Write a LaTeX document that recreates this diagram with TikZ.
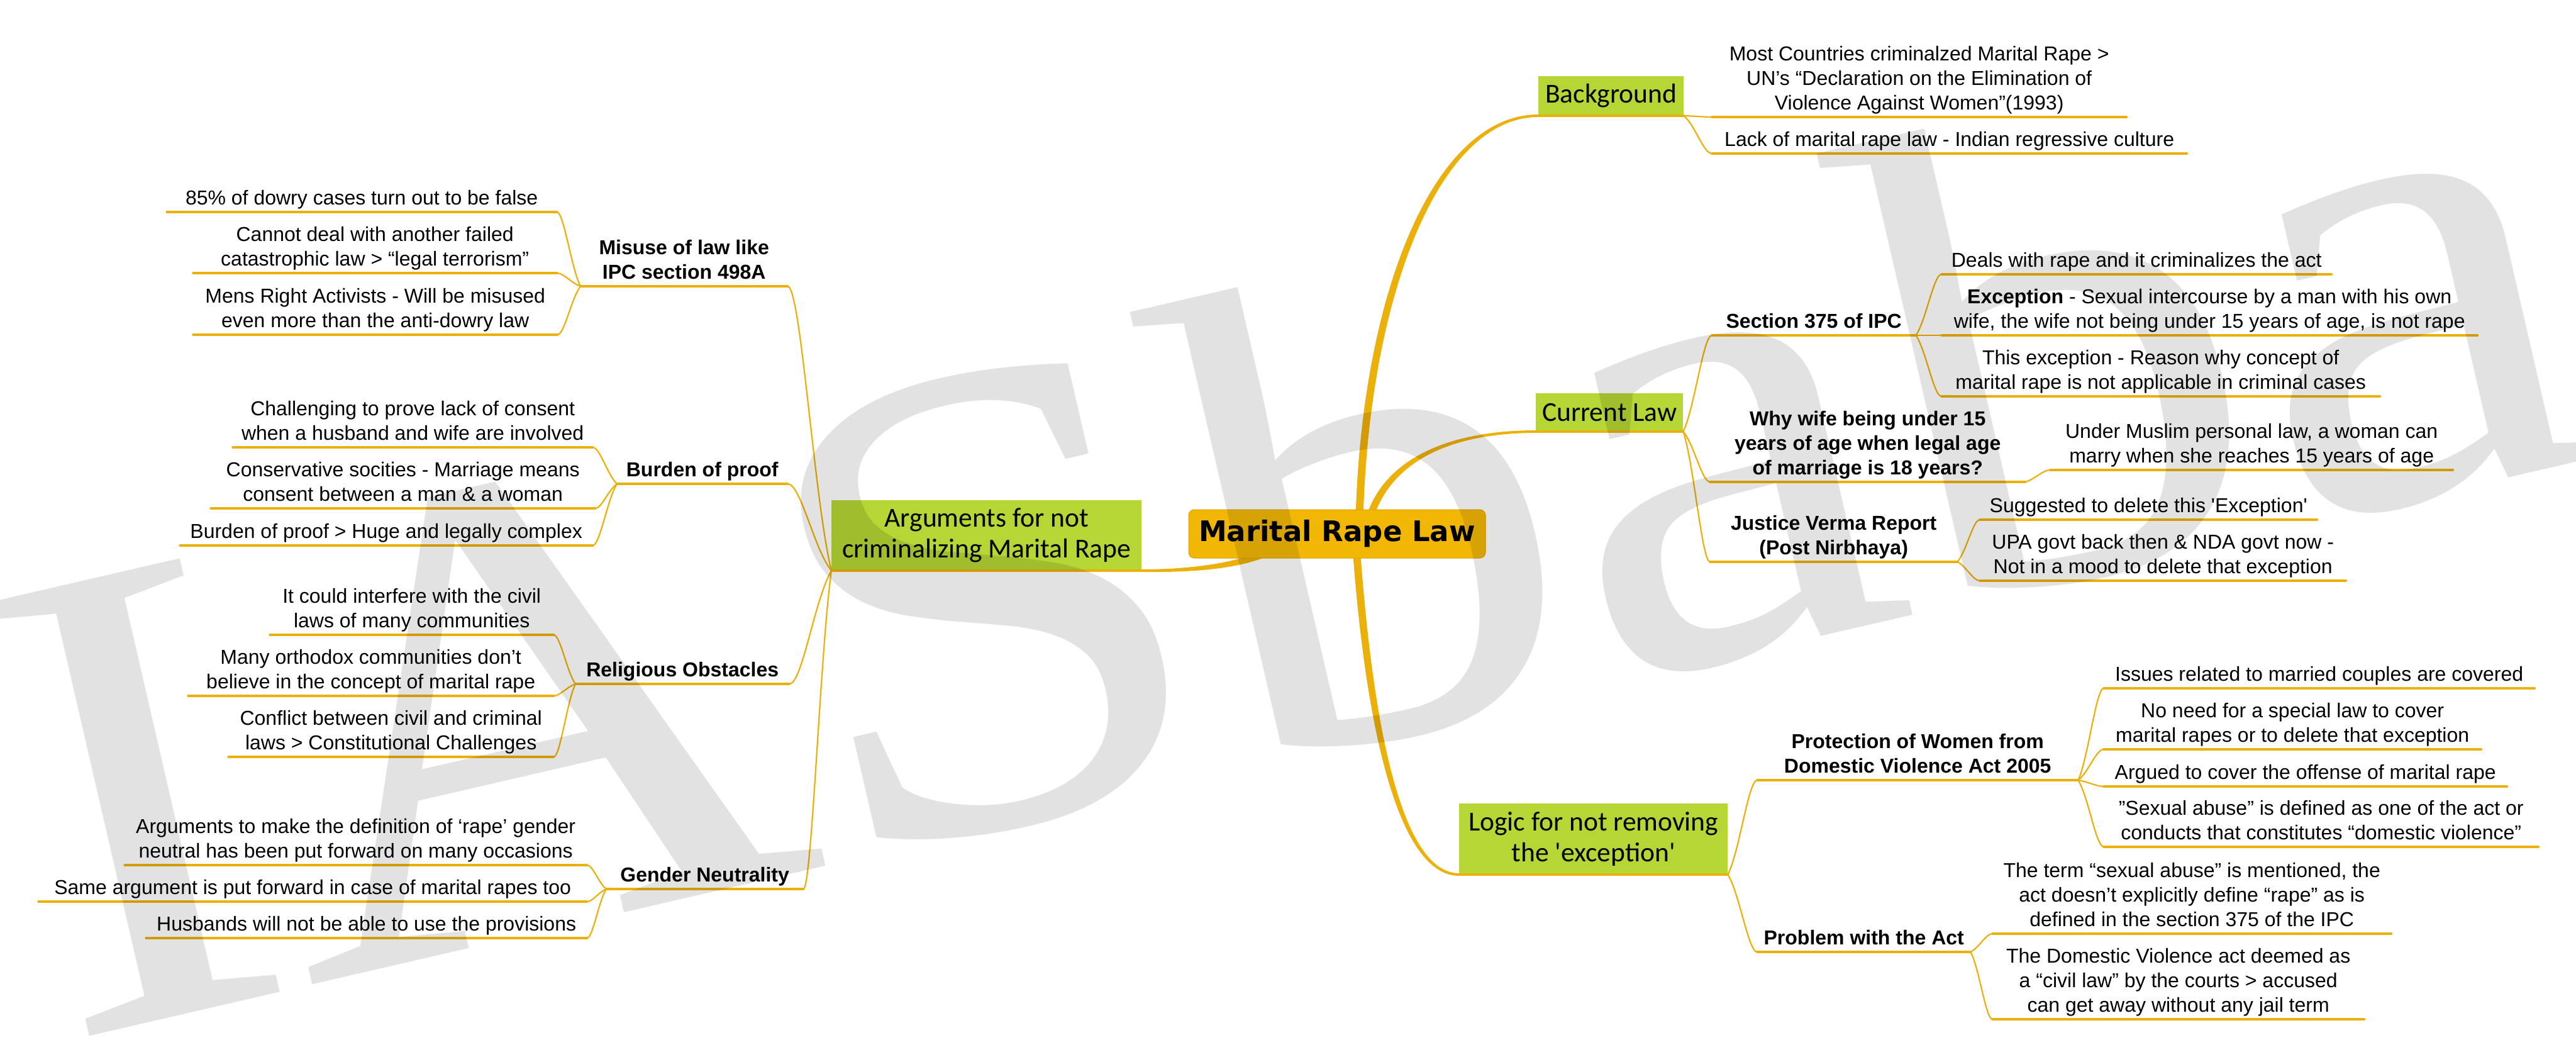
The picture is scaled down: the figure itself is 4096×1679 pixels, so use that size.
\documentclass[tikz,border=0pt]{standalone}
\usepackage{fontspec}
\setmainfont{Liberation Sans}
\newfontfamily\boxfont{Carlito}
\newfontfamily\ctrfont{DejaVu Sans}
\newfontfamily\wmfont{Liberation Serif}[FakeStretch=1.1]
\usetikzlibrary{calc}
\definecolor{linecol}{RGB}{236,176,10}
\definecolor{boxgreen}{RGB}{181,214,52}
\definecolor{ctrfill}{RGB}{242,183,5}
\definecolor{ctrdraw}{RGB}{222,164,0}
\pgfdeclarelayer{back}
\pgfdeclarelayer{front}
\pgfsetlayers{back,main,front}
\tikzset{
  uline/.style={draw=linecol, line width=3.2pt, line cap=round},
  conn/.style={draw=linecol, line width=2.2pt},
  leaf/.style={font=\fontsize{32}{39}\selectfont, align=center, inner xsep=0pt, inner ysep=0pt,
    anchor=south west, execute at begin node=\strut, execute at end node=\strut,
    append after command={(\tikzlastnode.south west) edge[uline] (\tikzlastnode.south east)}},
  sub/.style={leaf, font=\bfseries\fontsize{32}{39}\selectfont},
  gbox/.style={fill=boxgreen, font=\boxfont\fontsize{43.5}{49}\selectfont, align=center,
    inner sep=0pt, anchor=south west,
    append after command={(\tikzlastnode.south west) edge[uline, line width=4pt] (\tikzlastnode.south east)}},
  ctrnode/.style={fill=ctrfill, draw=ctrdraw, line width=1pt, rounded corners=9pt,
    font=\ctrfont\bfseries\fontsize{45}{50}\selectfont, minimum width=472, minimum height=77, inner sep=0pt},
  watermark/.style={font=\wmfont\fontsize{1080}{1080}\selectfont, text=black, text opacity=0.115,
    inner sep=0pt, anchor=base west, rotate=13},
}
\newcommand\mmlink[2]{\draw[conn] let \p1=(#1), \p2=(#2) in (\p1) .. controls ({\x1+0.4*(\x2-\x1)},{\y1+0.25*(\y2-\y1)}) and ({\x1+0.7*(\x2-\x1)},{\y2}) .. (\p2);}
\begin{document}
\begin{tikzpicture}[x=1pt, y=-1pt]
\useasboundingbox (0,0) rectangle (4096,1679);
% central node
\node[ctrnode] (ctr) at (2126,848.5) {Marital Rape Law};
% right side
\node[gbox, minimum width=231, minimum height=63] (bg) at (2446,184) {Background};
\node[leaf, minimum width=659] (bg1) at (2722,186) {Most Countries criminalzed Marital Rape >\\UN’s “Declaration on the Elimination of\\Violence Against Women”(1993)};
\node[leaf, minimum width=755] (bg2) at (2722,244) {Lack of marital rape law - Indian regressive culture};

\node[gbox, minimum width=234, minimum height=61] (cl) at (2442,686) {Current Law};
\node[sub, minimum width=324] (sec) at (2722,533) {Section 375 of IPC};
\node[leaf, minimum width=620] (sec1) at (3087,436) {Deals with rape and it criminalizes the act};
\node[leaf, minimum width=852] (sec2) at (3087,533) {{\bfseries Exception} - Sexual intercourse by a man with his own\\wife, the wife not being under 15 years of age, is not rape};
\node[leaf, minimum width=697] (sec3) at (3087,630) {This exception - Reason why concept of\\marital rape is not applicable in criminal cases};
\node[sub, minimum width=501] (why) at (2719,766) {Why wife being under 15\\years of age when legal age\\of marriage is 18 years?};
\node[leaf, minimum width=640] (why1) at (3260,747) {Under Muslim personal law, a woman can\\marry when she reaches 15 years of age};
\node[sub, minimum width=393] (jv) at (2719,893) {Justice Verma Report\\(Post Nirbhaya)};
\node[leaf, minimum width=536] (jv1) at (3148,826) {Suggested to delete this \textquotesingle Exception\textquotesingle};
\node[leaf, minimum width=582] (jv2) at (3148,923) {UPA govt back then \& NDA govt now -\\Not in a mood to delete that exception};

\node[gbox, minimum width=427, minimum height=113] (lg) at (2320,1390) {Logic for not removing\\the \textquotesingle exception\textquotesingle};
\node[sub, minimum width=510] (pw) at (2794,1240) {Protection of Women from\\Domestic Violence Act 2005};
\node[leaf, minimum width=685] (pw1) at (3345,1094) {Issues related to married couples are covered};
\node[leaf, minimum width=600] (pw2) at (3345,1191) {No need for a special law to cover\\marital rapes or to delete that exception};
\node[leaf, minimum width=641] (pw3) at (3345,1250) {Argued to cover the offense of marital rape};
\node[leaf, minimum width=691] (pw4) at (3345,1346) {"Sexual abuse” is defined as one of the act or\\conducts that constitutes “domestic violence”};
\node[sub, minimum width=339] (pa) at (2794,1513) {Problem with the Act};
\node[leaf, minimum width=634] (pa1) at (3168,1484) {The term “sexual abuse” is mentioned, the\\act doesn’t explicitly define “rape” as is\\defined in the section 375 of the IPC};
\node[leaf, minimum width=591] (pa2) at (3168,1620) {The Domestic Violence act deemed as\\a “civil law” by the courts > accused\\can get away without any jail term};

% left side
\node[gbox, minimum width=493, minimum height=112] (args) at (1322,907) {Arguments for not\\criminalizing Marital Rape};
\node[sub, minimum width=329] (mis) at (923,455) {Misuse of law like\\IPC section 498A};
\node[leaf, minimum width=620] (mis1) at (265,337) {85\% of dowry cases turn out to be false};
\node[leaf, minimum width=578] (mis2) at (307,434) {Cannot deal with another failed\\catastrophic law > “legal terrorism”};
\node[leaf, minimum width=579] (mis3) at (307,532) {Mens Right Activists - Will be misused\\even more than the anti-dowry law};
\node[sub, minimum width=271] (bur) at (981,769) {Burden of proof};
\node[leaf, minimum width=572] (bur1) at (370,711) {Challenging to prove lack of consent\\when a husband and wife are involved};
\node[leaf, minimum width=611] (bur2) at (335,808) {Conservative socities - Marriage means\\consent between a man \& a woman};
\node[leaf, minimum width=656] (bur3) at (286,867) {Burden of proof > Huge and legally complex};
\node[sub, minimum width=340] (rel) at (915,1087) {Religious Obstacles};
\node[leaf, minimum width=451] (rel1) at (429,1009) {It could interfere with the civil\\laws of many communities};
\node[leaf, minimum width=581] (rel2) at (299,1106) {Many orthodox communities don’t\\believe in the concept of marital rape};
\node[leaf, minimum width=517] (rel3) at (363,1203) {Conflict between civil and criminal\\laws > Constitutional Challenges};
\node[sub, minimum width=313] (gen) at (964,1413) {Gender Neutrality};
\node[leaf, minimum width=735] (gen1) at (198,1375) {Arguments to make the definition of ‘rape’ gender\\neutral has been put forward on many occasions};
\node[leaf, minimum width=872] (gen2) at (61,1433) {Same argument is put forward in case of marital rapes too};
\node[leaf, minimum width=701] (gen3) at (232,1491) {Husbands will not be able to use the provisions};

\begin{pgfonlayer}{back}
\fill[white] (0,0) rectangle (4096,1679);
% main tapered connectors
\fill[linecol] ($(ctr.center)+(29,0)$) .. controls (2160,480) and (2276,182) .. ($(bg.south west)+(0,-2)$)
  -- ($(bg.south west)+(0,2)$) .. controls (2284,186) and (2172,485) .. ($(ctr.center)+(41,0)$) -- cycle;
\fill[linecol] ($(ctr.center)+(40,0)$) .. controls (2183,738) and (2290,684) .. ($(cl.south west)+(0,-2)$)
  -- ($(cl.south west)+(0,2)$) .. controls (2290,688) and (2195,745) .. ($(ctr.center)+(52,0)$) -- cycle;
\fill[linecol] ($(ctr.center)+(23,0)$) .. controls (2169,1150) and (2222,1392) .. ($(lg.south west)+(0,2)$)
  -- ($(lg.south west)+(0,-2)$) .. controls (2228,1388) and (2181,1150) .. ($(ctr.center)+(35,0)$) -- cycle;
\fill[linecol] ($(ctr.center)+(-66,-6)$) .. controls (2010,893) and (1900,905) .. ($(args.south east)+(0,-2)$)
  -- ($(args.south east)+(0,2)$) .. controls (1900,910) and (2015,905) .. ($(ctr.center)+(-66,6)$) -- cycle;
% thin connectors
\mmlink{bg.south east}{bg1.south west}
\mmlink{bg.south east}{bg2.south west}
\mmlink{cl.south east}{sec.south west}
\mmlink{cl.south east}{why.south west}
\mmlink{cl.south east}{jv.south west}
\mmlink{sec.south east}{sec1.south west}
\mmlink{sec.south east}{sec2.south west}
\mmlink{sec.south east}{sec3.south west}
\mmlink{why.south east}{why1.south west}
\mmlink{jv.south east}{jv1.south west}
\mmlink{jv.south east}{jv2.south west}
\mmlink{lg.south east}{pw.south west}
\mmlink{lg.south east}{pa.south west}
\mmlink{pw.south east}{pw1.south west}
\mmlink{pw.south east}{pw2.south west}
\mmlink{pw.south east}{pw3.south west}
\mmlink{pw.south east}{pw4.south west}
\mmlink{pa.south east}{pa1.south west}
\mmlink{pa.south east}{pa2.south west}
\mmlink{args.south west}{mis.south east}
\mmlink{args.south west}{bur.south east}
\mmlink{args.south west}{rel.south east}
\mmlink{args.south west}{gen.south east}
\mmlink{mis.south west}{mis1.south east}
\mmlink{mis.south west}{mis2.south east}
\mmlink{mis.south west}{mis3.south east}
\mmlink{bur.south west}{bur1.south east}
\mmlink{bur.south west}{bur2.south east}
\mmlink{bur.south west}{bur3.south east}
\mmlink{rel.south west}{rel1.south east}
\mmlink{rel.south west}{rel2.south east}
\mmlink{rel.south west}{rel3.south east}
\mmlink{gen.south west}{gen1.south east}
\mmlink{gen.south west}{gen2.south east}
\mmlink{gen.south west}{gen3.south east}
\end{pgfonlayer}

\begin{pgfonlayer}{front}
\node[watermark] (wm) at (100,1657) {IASbaba};
\end{pgfonlayer}
\end{tikzpicture}
\end{document}
